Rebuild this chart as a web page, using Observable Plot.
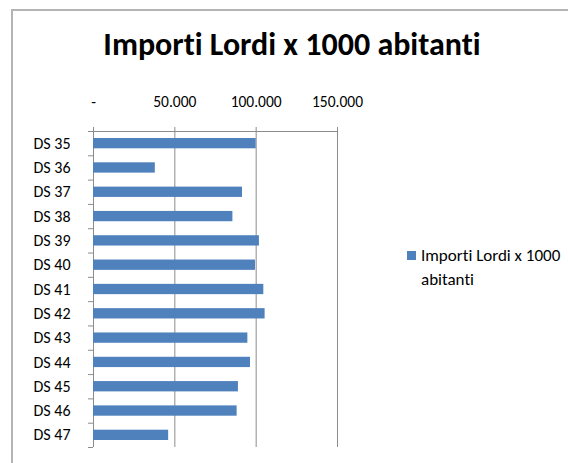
<!DOCTYPE html>
<html><head><meta charset="utf-8">
<script src="https://cdn.jsdelivr.net/npm/d3@7"></script>
<script src="https://cdn.jsdelivr.net/npm/@observablehq/plot@0.6"></script>
<style>
body{margin:0;background:#fff;font-family:Carlito,Lato,sans-serif;color:#000;font-variant-ligatures:none;}
#wrap{position:relative;width:568px;height:463px;overflow:hidden;}
#frame{position:absolute;left:11px;top:9px;width:620px;height:520px;border:2px solid #b4b4b4;box-sizing:border-box;}
#title{position:absolute;left:0;width:584px;top:25px;text-align:center;font-weight:bold;font-size:32px;line-height:40px;font-variant-ligatures:none;}
#chart{position:absolute;left:0;top:0;}
#legend{position:absolute;left:407px;top:244px;font-size:17px;line-height:24px;font-variant-ligatures:none;}
#legend .sw{position:absolute;left:0;top:7px;width:9px;height:9px;background:#4F81BD;}
#legend .tx{margin-left:14px;white-space:nowrap;}
</style></head>
<body>
<div id="wrap">
  <div id="frame"></div>
  <div id="title"></div>
  <div id="chart"></div>
  <div id="legend"><div class="sw"></div><div class="tx" id="legtext"></div></div>
</div>
<script>
const title = "Importi Lordi x 1000 abitanti";
const seriesName = ["Importi Lordi x 1000", "abitanti"];
const categories = ["DS 35","DS 36","DS 37","DS 38","DS 39","DS 40","DS 41","DS 42","DS 43","DS 44","DS 45","DS 46","DS 47"];
const values = [100000, 38000, 91600, 85700, 102000, 99600, 104700, 105500, 94900, 96500, 89100, 88300, 46200];
const xTicks = [0, 50000, 100000, 150000];

document.getElementById("title").textContent = title;
document.getElementById("legtext").innerHTML = seriesName.join("<br>");

const n = categories.length;
const data = categories.map((c, i) => ({cat: c, idx: i, value: values[i]}));
const grey = "#8c8c8c";
const fmt = d => d === 0 ? "-" : d3.format(",")(d).replace(/,/g, ".");

const chart = Plot.plot({
  width: 568, height: 463,
  marginTop: 131, marginBottom: 16, marginLeft: 93, marginRight: 231,
  style: {fontFamily: "Carlito, Lato, sans-serif", fontSize: "13px", background: "transparent", color: "#000"},
  x: {domain: [xTicks[0], xTicks[xTicks.length - 1]], axis: null},
  y: {domain: [0, n], reverse: true, axis: null},
  marks: [
    Plot.ruleX(xTicks, {stroke: grey, strokeWidth: 1}),
    Plot.ruleY([0], {x1: xTicks[0], x2: xTicks[xTicks.length - 1], stroke: grey}),
    Plot.axisX({anchor: "top", label: null, ticks: xTicks, tickSize: 5, tickPadding: 20, tickFormat: fmt, stroke: grey, fill: "#000", fontSize: 15.5}),
    Plot.rectX(data, {x1: 0, x2: "value", y1: "idx", y2: d => d.idx + 1, insetTop: 7, insetBottom: 7, fill: "#4F81BD"}),
    Plot.axisY({anchor: "left", label: null, ticks: d3.range(n + 1), tickSize: 5, tickFormat: () => "", stroke: grey}),
    Plot.axisY({anchor: "left", label: null, ticks: d3.range(n).map(i => i + 0.5), tickSize: 0, tickPadding: 23, tickFormat: d => categories[Math.floor(d)], fill: "#000", fontSize: 16})
  ]
});
document.getElementById("chart").appendChild(chart);
</script>
</body></html>
